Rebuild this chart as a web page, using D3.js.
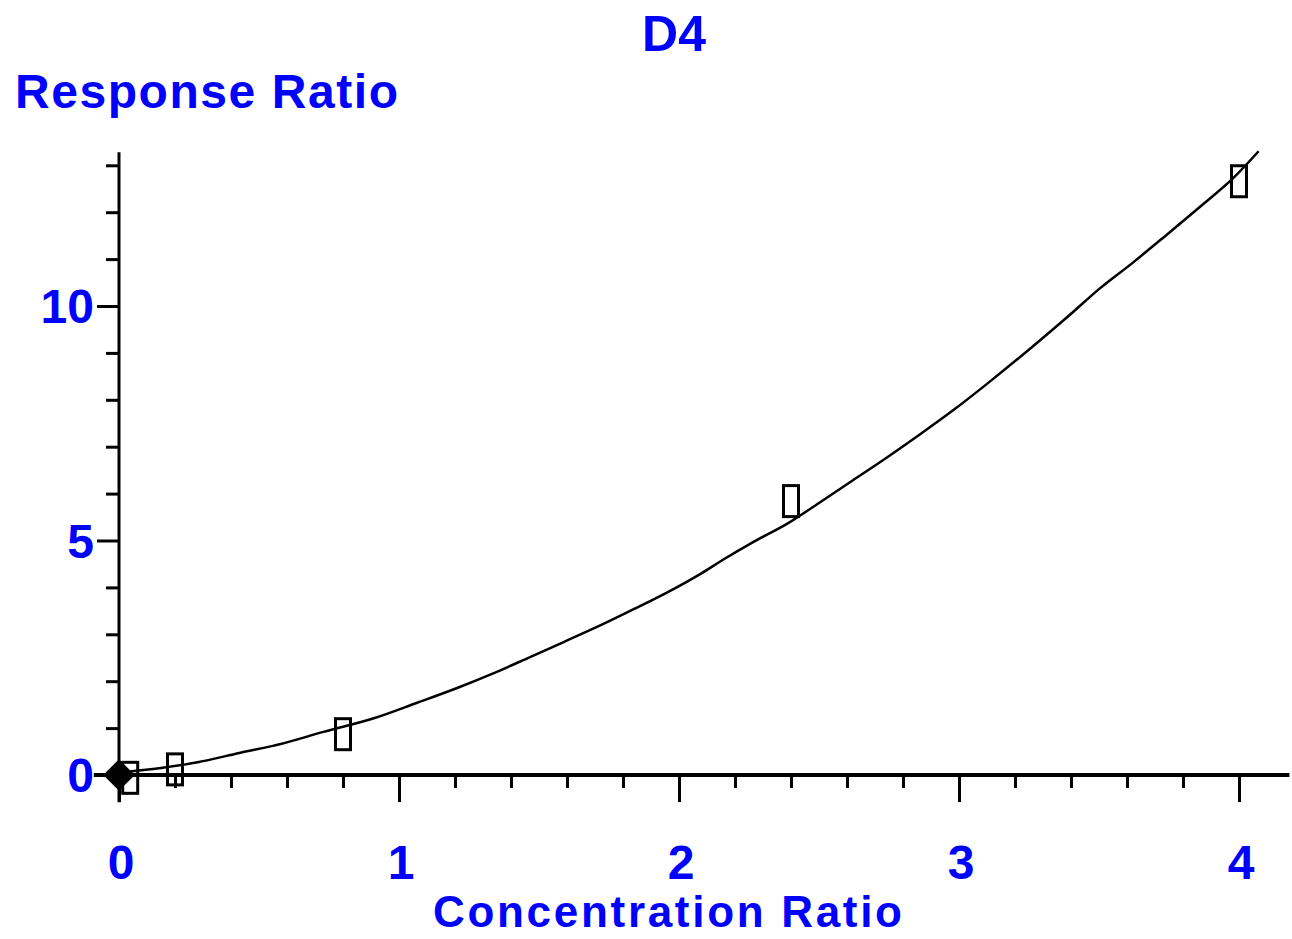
<!DOCTYPE html>
<html>
<head>
<meta charset="utf-8">
<script src="https://cdn.jsdelivr.net/npm/d3@7"></script>
<style>
body { margin: 0; background: white; }
text { font-family: "Liberation Sans", Arial, sans-serif; font-weight: bold; fill: #0000ff; }
</style>
</head>
<body>
<svg></svg>
<script>
// calibration standards (boxes)
var stdX = [0.04, 0.2, 0.8, 2.4, 4.0]
var stdY = [-0.06, 0.12, 0.87, 5.84, 12.66]

// origin point
var originX = [0]
var originY = [0]

// fitted curve
var fitX = [0, 0.15, 0.27, 0.43, 0.59, 0.73, 0.91, 1.06, 1.21, 1.33, 1.47, 1.59, 1.73, 1.84, 1.96, 2.08, 2.16, 2.26, 2.39, 2.5, 2.62, 2.74, 2.86, 2.98, 3.1, 3.26, 3.39, 3.5, 3.62, 3.74, 3.86, 3.98, 4.07]
var fitY = [0.05, 0.15, 0.26, 0.47, 0.68, 0.92, 1.21, 1.53, 1.86, 2.15, 2.52, 2.84, 3.22, 3.54, 3.9, 4.3, 4.6, 4.95, 5.37, 5.8, 6.28, 6.76, 7.26, 7.78, 8.34, 9.12, 9.78, 10.36, 10.92, 11.51, 12.11, 12.73, 13.3]

var xTicks = [0, 1, 2, 3, 4]
var yTicks = [0, 5, 10]

var screen = {width: 1292, height: 939}

var svg = d3.select("svg")
    .attr("width", screen.width)
    .attr("height", screen.height)

var xScale = d3.scaleLinear()
    .domain([0, 4])
    .range([119, 1239])

var yScale = d3.scaleLinear()
    .domain([0, 10])
    .range([775, 306])

// minor ticks
var xMinor = d3.range(0.2, 4.19, 0.2).filter(function(v) { return Math.abs(v - Math.round(v)) > 0.01 })
var yMinor = d3.range(1, 14).filter(function(v) { return v % 5 != 0 })

var xAxisMinor = d3.axisBottom(xScale).tickValues(xMinor).tickSize(13).tickFormat("").tickSizeOuter(0)
var xAxisMajor = d3.axisBottom(xScale).tickValues(xTicks).tickSize(27).tickFormat("").tickSizeOuter(0)
var yAxisMinor = d3.axisLeft(yScale).tickValues(yMinor).tickSize(13).tickFormat("").tickSizeOuter(0)
var yAxisMajor = d3.axisLeft(yScale).tickValues(yTicks).tickSize(22).tickFormat("").tickSizeOuter(0)

var addAxis = function(axis, tx, ty)
{
    var g = svg.append("g")
        .attr("transform", "translate(" + tx + "," + ty + ")")
        .call(axis)
    g.select(".domain").remove()
    g.selectAll("line").attr("stroke", "black").attr("stroke-width", 3)
    return g
}

addAxis(xAxisMinor, 0, yScale(0))
addAxis(xAxisMajor, 0, yScale(0))
addAxis(yAxisMinor, xScale(0), 0)
addAxis(yAxisMajor, xScale(0), 0)

// axis lines
svg.append("line")
    .attr("x1", xScale(-0.09)).attr("x2", xScale(4.18))
    .attr("y1", yScale(0)).attr("y2", yScale(0))
    .attr("stroke", "black").attr("stroke-width", 4)

svg.append("line")
    .attr("x1", xScale(0)).attr("x2", xScale(0))
    .attr("y1", yScale(-0.58)).attr("y2", yScale(13.28))
    .attr("stroke", "black").attr("stroke-width", 3)

// tick labels
svg.selectAll(".xlab")
    .data(xTicks)
    .enter()
    .append("text")
    .attr("class", "xlab")
    .attr("x", function(d) { return xScale(d) + 2 })
    .attr("y", 879)
    .attr("text-anchor", "middle")
    .attr("font-size", 48)
    .text(function(d) { return d })

svg.selectAll(".ylab")
    .data(yTicks)
    .enter()
    .append("text")
    .attr("class", "ylab")
    .attr("x", 94)
    .attr("y", function(d) { return yScale(d) + 17 })
    .attr("text-anchor", "end")
    .attr("font-size", 48)
    .text(function(d) { return d })

// titles
svg.append("text")
    .attr("x", 674).attr("y", 51)
    .attr("text-anchor", "middle")
    .attr("font-size", 50)
    .text("D4")

svg.append("text")
    .attr("x", 15).attr("y", 108)
    .attr("font-size", 48)
    .attr("textLength", 383)
    .attr("lengthAdjust", "spacing")
    .text("Response Ratio")

svg.append("text")
    .attr("x", 433).attr("y", 927)
    .attr("font-size", 44)
    .attr("textLength", 469)
    .attr("lengthAdjust", "spacing")
    .text("Concentration Ratio")

// fitted curve
var fit = fitX.map(function(x, i) { return {x: x, y: fitY[i]} })

var line = d3.line()
    .x(function(d) { return xScale(d.x) })
    .y(function(d) { return yScale(d.y) })
    .curve(d3.curveMonotoneX)

svg.append("path")
    .datum(fit)
    .attr("d", line)
    .attr("fill", "none")
    .attr("stroke", "black")
    .attr("stroke-width", 2.5)

// origin diamond
svg.selectAll(".origin")
    .data(originX)
    .enter()
    .append("path")
    .attr("class", "origin")
    .attr("d", d3.symbol().type(d3.symbolSquare).size(500))
    .attr("transform", function(d, i) { return "translate(" + xScale(d) + "," + yScale(originY[i]) + ") rotate(45)" })
    .attr("fill", "black")

// standards as open boxes
var stds = stdX.map(function(x, i) { return {x: x, y: stdY[i]} })

svg.selectAll(".std")
    .data(stds)
    .enter()
    .append("rect")
    .attr("class", "std")
    .attr("x", function(d) { return xScale(d.x) - 7.5 })
    .attr("y", function(d) { return yScale(d.y) - 15.5 })
    .attr("width", 15)
    .attr("height", 31)
    .attr("fill", "none")
    .attr("stroke", "black")
    .attr("stroke-width", 3)
</script>
</body>
</html>
